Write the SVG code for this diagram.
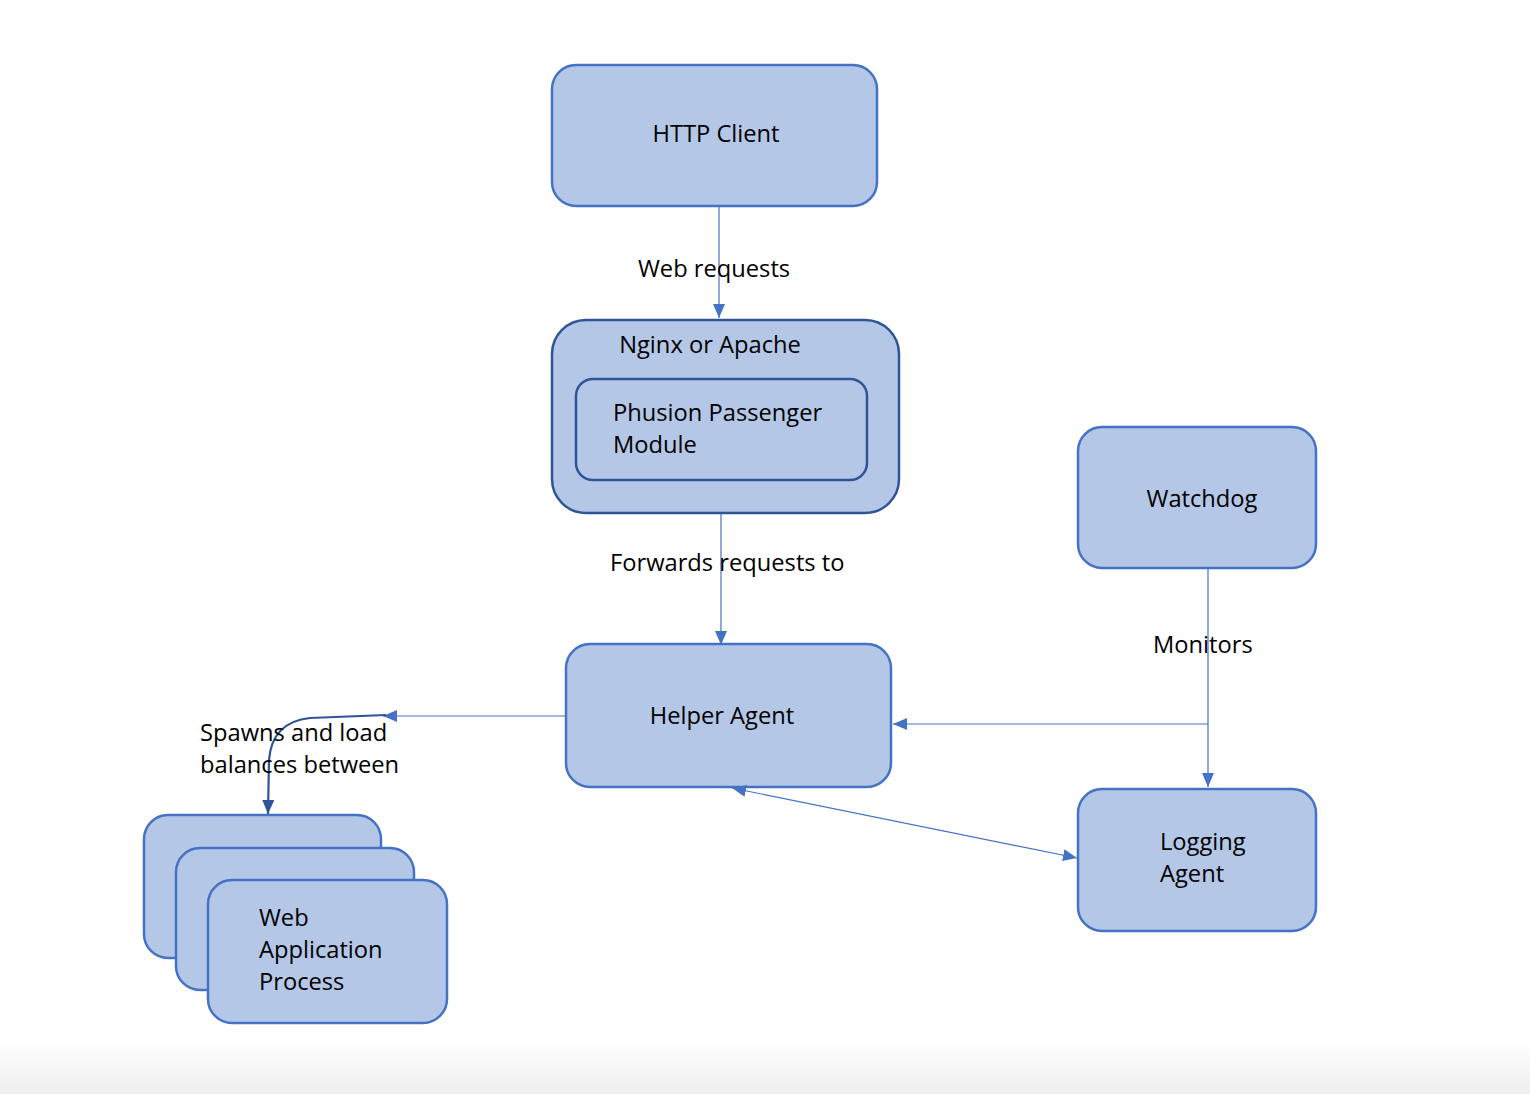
<svg xmlns="http://www.w3.org/2000/svg" width="1530" height="1094" viewBox="0 0 1530 1094">
<style>
.n{fill:#b4c7e7;stroke:#4472c4;stroke-width:2.5}
.d{fill:#b4c7e7;stroke:#2f5597;stroke-width:2.5}
.t{font-family:"Open Sans","Liberation Sans",sans-serif;font-size:23.7px;fill:#000}
.c{fill:none;stroke:#4472c4;stroke-width:1.2}
</style>
<defs>
<linearGradient id="bg" x1="0" y1="0" x2="0" y2="1">
<stop offset="0" stop-color="#ffffff"/><stop offset="1" stop-color="#eeeeee"/>
</linearGradient>
<marker id="a" viewBox="0 0 14 12" refX="14" refY="6" markerWidth="14" markerHeight="12" markerUnits="userSpaceOnUse" orient="auto-start-reverse"><path d="M0,0L14,6L0,12z" fill="#4472c4"/></marker>
<marker id="ad" viewBox="0 0 14 12" refX="14" refY="6" markerWidth="14" markerHeight="12" markerUnits="userSpaceOnUse" orient="auto"><path d="M0,0L14,6L0,12z" fill="#2f5597"/></marker>
</defs>
<rect width="1530" height="1094" fill="#fff"/>
<rect y="1040" width="1530" height="54" fill="url(#bg)"/>
<g id="http-client"><rect class="n" x="552" y="65" width="325" height="141" rx="24"/><text class="t" x="716" y="142" text-anchor="middle">HTTP Client</text></g>
<g id="nginx"><rect class="d" x="552" y="320" width="347" height="193" rx="34"/><text class="t" x="710" y="353" text-anchor="middle">Nginx or Apache</text>
<g id="phusion"><rect class="d" x="576" y="379" width="291" height="101" rx="17"/><text class="t" x="613" y="421">Phusion Passenger</text><text class="t" x="613" y="453">Module</text></g></g>
<g id="watchdog"><rect class="n" x="1078" y="427" width="238" height="141" rx="24"/><text class="t" x="1202" y="507" text-anchor="middle">Watchdog</text></g>
<g id="helper-agent"><rect class="n" x="566" y="644" width="325" height="143" rx="24"/><text class="t" x="722" y="724" text-anchor="middle">Helper Agent</text></g>
<g id="logging-agent"><rect class="n" x="1078" y="789" width="238" height="142" rx="24"/><text class="t" x="1160" y="850">Logging</text><text class="t" x="1160" y="882">Agent</text></g>
<g id="web-app"><rect class="n" x="144" y="815" width="237" height="143" rx="24"/><rect class="n" x="176" y="848" width="238" height="142" rx="24"/><rect class="n" x="208" y="880" width="239" height="143" rx="24"/><text class="t" x="259" y="926">Web</text><text class="t" x="259" y="958">Application</text><text class="t" x="259" y="990">Process</text></g>
<g id="connectors">
<line class="c" x1="719" y1="206" x2="719" y2="318" marker-end="url(#a)"/>
<line class="c" x1="721" y1="514" x2="721" y2="645" marker-end="url(#a)"/>
<line class="c" x1="1208" y1="568" x2="1208" y2="787" marker-end="url(#a)"/>
<line class="c" x1="1208" y1="724" x2="893" y2="724" marker-end="url(#a)"/>
<line class="c" x1="566" y1="716" x2="383" y2="716" marker-end="url(#a)"/>
<line class="c" x1="732" y1="788" x2="1077" y2="858" marker-start="url(#a)" marker-end="url(#a)"/>
<path d="M386,715 L310,718 Q272,722 269,760 L268,814" fill="none" stroke="#2f5597" stroke-width="2.2" marker-end="url(#ad)"/>
<text class="t" x="638" y="277">Web requests</text>
<text class="t" x="610" y="571">Forwards requests to</text>
<text class="t" x="1153" y="653">Monitors</text>
<text class="t" x="200" y="741">Spawns and load</text>
<text class="t" x="200" y="773">balances between</text>
</g>
</svg>
